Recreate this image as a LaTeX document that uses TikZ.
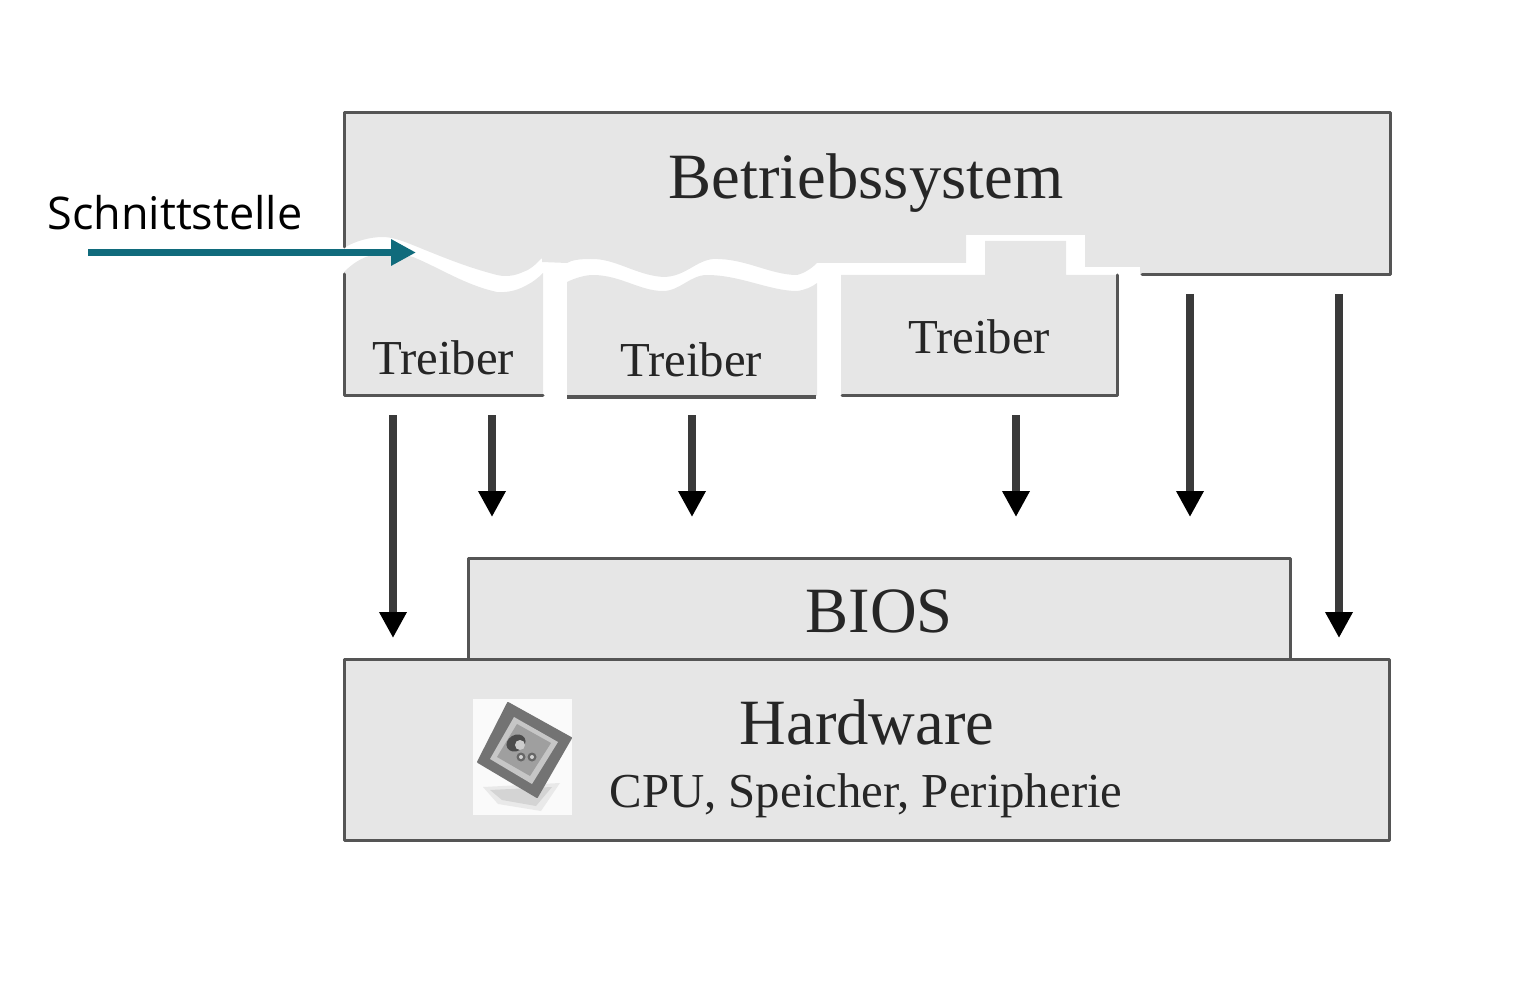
\documentclass[tikz,border=0pt]{standalone}
\usepackage{fontspec}
\setmainfont{Liberation Serif}
\newfontfamily\labelfont{Open Sans}
\usetikzlibrary{arrows.meta}
\definecolor{boxgray}{HTML}{E6E6E6}
\definecolor{edgegray}{HTML}{555555}
\definecolor{inkgray}{HTML}{262626}
\definecolor{shaftgray}{HTML}{3A3A3A}
\definecolor{tealarrow}{HTML}{106B7C}
\tikzset{
 x=0.5pt,y=-0.5pt,
 edge/.style={draw=edgegray,line width=1.5pt,line cap=round,line join=round},
 big/.style={font=\fontsize{32.3}{36}\selectfont,text=inkgray,inner sep=0pt},
 small/.style={font=\fontsize{24.4}{28}\selectfont,text=inkgray,inner sep=0pt},
 flow/.style={draw=shaftgray,line width=4pt,-{Triangle[length=13pt,width=13pt,color=black]}},
}
\begin{document}
\begin{tikzpicture}
\useasboundingbox (0,0) rectangle (1527,1000);
% Betriebssystem body
\fill[boxgray] (344,113) -- (1390,113) -- (1390,275) -- (1140,275) -- (1140,267) -- (1085,267) -- (1085,235) -- (966,235) -- (966,263) -- (817,263)
 .. controls (812,268) and (805,273) .. (797,275) .. controls (770,275) and (745,258) .. (713,259) .. controls (695,261) and (685,277) .. (663,277) .. controls (635,275) and (615,258) .. (590,259) .. controls (580,259) and (572,260) .. (567,263) -- (542,262) -- (542,258)
 .. controls (535,265) and (530,270) .. (523,272) .. controls (515,276) and (505,277) .. (497,275) .. controls (470,268) and (450,260) .. (430,252) .. controls (410,244) and (395,237) .. (383,237) .. controls (370,237) and (355,241) .. (344,248) -- cycle;
\draw[edge] (344,247) -- (344,113) -- (1390,113) -- (1390,275) -- (1142,275);
% Treiber 1
\fill[boxgray] (344,272) .. controls (352,264) and (362,257) .. (373,255) .. controls (385,253) and (400,253) .. (413,257) .. controls (440,268) and (465,285) .. (497,292) .. controls (510,293) and (520,289) .. (527,285) .. controls (533,282) and (538,278) .. (543,273) -- (543,396) -- (344,396) -- cycle;
\draw[edge] (344,274) -- (344,396) -- (543,396);
% Treiber 2
\fill[boxgray] (567,282) .. controls (575,278) and (585,275) .. (593,275) .. controls (620,275) and (640,291) .. (663,291) .. controls (680,291) and (690,275) .. (707,275) .. controls (740,275) and (770,291) .. (797,291) .. controls (805,290) and (812,287) .. (817,283) -- (817,396) -- (567,396) -- cycle;
\draw[edge,line width=2pt,line cap=butt] (567,397) -- (816,397);
% Treiber 3
\fill[boxgray] (841,275) -- (985,275) -- (985,241) -- (1066,241) -- (1066,275) -- (1117,275) -- (1117,396) -- (841,396) -- cycle;
\draw[edge] (1117,275) -- (1117,396) -- (842,396);
% BIOS and Hardware
\fill[boxgray] (468,558) rectangle (1290,658);
\draw[edge] (468,658) -- (468,558) -- (1290,558) -- (1290,658);
\fill[boxgray] (344,659) rectangle (1389,840);
\draw[edge] (344,659) rectangle (1389,840);
% Chip
\fill[white!98!black] (473,699) rectangle (572,815);
\fill[gray!30,opacity=.5] (483,787) -- (560,783) -- (541,811) -- (498,804) -- cycle;
\fill[gray!45,opacity=.6] (490,790) -- (552,787) -- (536,806) -- (502,800) -- cycle;
\fill[gray!90!black,draw=gray!90!black,line width=1pt,line join=round] (508,703) -- (571,738) -- (537,797) -- (478,762) -- cycle;
\fill[gray!45] (514,717) -- (558,742) -- (532,784) -- (490,759) -- cycle;
\fill[gray!75] (517,724) -- (551,743) -- (530,776) -- (497,757) -- cycle;
\fill[black!70,rotate around={30:(516,743)}] (516,743) ellipse [x radius=10,y radius=8];
\fill[gray!40] (520,745) circle [radius=5];
\fill[black!60] (521,757) circle [radius=4.5];
\fill[black!60] (532,757) circle [radius=4.5];
\fill[gray!35] (521,757) circle [radius=2];
\fill[gray!35] (532,757) circle [radius=2];
% Text
\node[big,anchor=base] (os) at (866,199) {Betriebssystem};
\node[small,anchor=base] (t1) at (443,374) {Treiber};
\node[small,anchor=base] (t2) at (691,377) {Treiber};
\node[small,anchor=base] (t3) at (979,354) {Treiber};
\node[big,anchor=base] (bios) at (879,632) {BIOS};
\node[big,anchor=base] (hw) at (867,744) {Hardware};
\node[small,anchor=base] (cpu) at (866,807) {CPU, Speicher, Peripherie};
\node[font=\labelfont\fontsize{22.5}{26}\selectfont,anchor=base west,inner sep=0pt,text=black] (sch) at (47,230) {Schnittstelle};
% Flow arrows
\foreach \n/\x/\ya/\yb in {a/393/415/638,b/492/415/517,c/692/415/517,d/1016/415/517,e/1190/294/517,f/1339/294/638}{
 \coordinate (\n1) at (\x,\ya);
 \coordinate (\n2) at (\x,\yb);
 \draw[flow] (\n1) -- (\n2);
}
% Teal arrow
\coordinate (s1) at (88,252.5);
\coordinate (s2) at (416,252.5);
\draw[tealarrow,line width=3.7pt,-{Triangle[length=12.5pt,width=12.5pt]}] (s1) -- (s2);
\end{tikzpicture}
\end{document}
